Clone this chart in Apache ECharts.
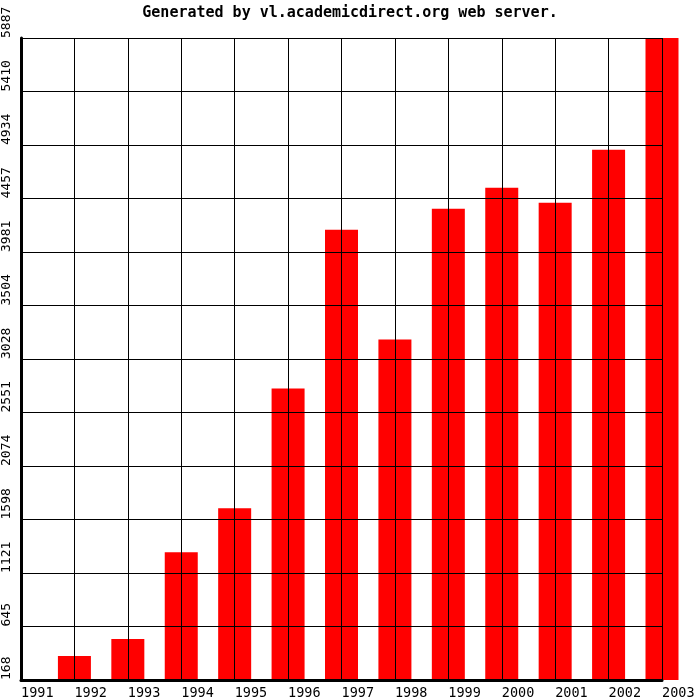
<!DOCTYPE html>
<html>
<head>
<meta charset="utf-8">
<script src="https://cdn.jsdelivr.net/npm/echarts@6/dist/echarts.min.js"></script>
<style>
html,body{margin:0;padding:0;background:#fff;}
#chart{width:700px;height:700px;}
</style>
</head>
<body>
<div id="chart"></div>
<script>
const categories = ['1991','1992','1993','1994','1995','1996','1997','1998','1999','2000','2001','2002','2003'];
const values = [168, 381, 533, 1306, 1698, 2765, 4179, 3201, 4366, 4553, 4419, 4891, 5887];
const yTickLabels = ['168','645','1121','1598','2074','2551','3028','3504','3981','4457','4934','5410','5887'];
const yMin = 168;
const yMax = 5887;

const chart = echarts.init(document.getElementById('chart'), null, {renderer: 'canvas'});
const span = yMax - yMin;
chart.setOption({
  animation: false,
  backgroundColor: '#ffffff',
  title: {
    text: 'Generated by vl.academicdirect.org web server.',
    left: 'center',
    top: 1,
    textStyle: {fontFamily: 'DejaVu Sans Mono', fontWeight: 'bold', fontSize: 15, color: '#000'}
  },
  grid: {left: 20, right: 38, top: 38, bottom: 19, containLabel: false},
  xAxis: {
    type: 'category',
    data: categories,
    boundaryGap: false,
    z: 5,
    axisLine: {show: true, lineStyle: {color: '#000', width: 3}},
    axisTick: {show: false},
    splitLine: {show: true, lineStyle: {color: '#000', width: 1}},
    axisLabel: {
      show: true, interval: 0, align: 'left', margin: 6,
      fontFamily: 'DejaVu Sans Mono', fontSize: 13.5, color: '#000'
    }
  },
  yAxis: {
    type: 'value',
    min: 0,
    max: span,
    interval: span / 12,
    z: 5,
    axisLine: {show: true, lineStyle: {color: '#000', width: 3}},
    axisTick: {show: false},
    splitLine: {show: true, lineStyle: {color: '#000', width: 1}},
    axisLabel: {
      show: true, rotate: 90, align: 'left', verticalAlign: 'bottom', margin: 8,
      fontFamily: 'DejaVu Sans Mono', fontSize: 13, color: '#000',
      showMinLabel: true, showMaxLabel: true,
      formatter: function (v, i) { return yTickLabels[i]; }
    }
  },
  series: [{
    type: 'bar',
    data: values.map(v => v - yMin),
    barWidth: 33,
    clip: false,
    itemStyle: {color: '#ff0000'},
    z: 1
  }]
});
</script>
</body>
</html>
